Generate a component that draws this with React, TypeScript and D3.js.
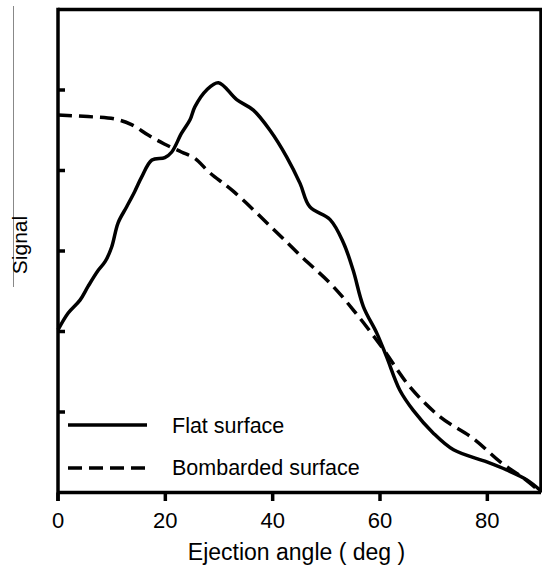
import React from 'react';
import * as d3 from 'd3';

// Flat surface (solid line): [angle deg, signal]
const flatAngle = [0, 1.9, 4.1, 5.6, 7.5, 8.8, 10, 11.2, 12.8, 14.3, 15.6, 17.5, 19.9, 21.2, 23, 24.6, 25.5, 27.7, 29.9, 33.3, 36.4, 39.5, 42.6, 45.1, 46.9, 50.7, 53.2, 55, 56.9, 59.4, 61.2, 63.7, 66.2, 69.9, 73.7, 79.9, 83.6, 87.3, 90];
const flatSignal = [2.02, 2.23, 2.39, 2.56, 2.76, 2.87, 3.05, 3.35, 3.55, 3.74, 3.92, 4.13, 4.16, 4.23, 4.46, 4.63, 4.79, 5.0, 5.09, 4.88, 4.75, 4.5, 4.17, 3.84, 3.55, 3.39, 3.1, 2.76, 2.31, 1.98, 1.69, 1.27, 1.02, 0.74, 0.53, 0.38, 0.28, 0.16, 0.02];

// Bombarded surface (dashed line)
const bombAngle = [0, 5.6, 10.6, 13.7, 16.8, 19.8, 23, 25.5, 28.3, 32.7, 40, 45.7, 50.7, 55, 60.3, 65.6, 71.2, 77.4, 82.4, 86.7, 90];
const bombSignal = [4.69, 4.67, 4.64, 4.57, 4.44, 4.33, 4.23, 4.15, 3.97, 3.74, 3.28, 2.91, 2.6, 2.27, 1.81, 1.31, 0.94, 0.67, 0.38, 0.18, 0.0];

const xTicks = [0, 20, 40, 60, 80];
const yTicks = [1, 2, 3, 4, 5];

const legendLabels = ['Flat surface', 'Bombarded surface'];

const FONT = "'Liberation Sans', Arial, Helvetica, sans-serif";

const App = () => {
	const svgWidth = 542;
	const svgHeight = 568;
	const left = 58,
		right = 541,
		top = 9.5,
		bottom = 492.5;

	const xScale = d3.scaleLinear().domain([0, 90]).range([left, right]);
	const yScale = d3.scaleLinear().domain([0, 6]).range([bottom, top]);

	const line = d3
		.line<[number, number]>()
		.x((d) => xScale(d[0]))
		.y((d) => yScale(d[1]))
		.curve(d3.curveCatmullRom.alpha(0.5));

	const flatData = flatAngle.map((a, i) => [a, flatSignal[i]] as [number, number]);
	const bombData = bombAngle.map((a, i) => [a, bombSignal[i]] as [number, number]);

	const sw = 3.5;

	return (
		<svg
			width={svgWidth}
			height={svgHeight}
			style={{ position: 'absolute', left: 0, top: 0, background: 'white' }}
		>
			{/* --- Y LABEL --- */}
			<line x1={13.5} x2={13.5} y1={6} y2={287} stroke='#888' strokeWidth={1} />
			<text
				transform='translate(27, 245) rotate(-90)'
				textAnchor='middle'
				fontFamily={FONT}
				fontSize={21}
				fill='black'
			>
				Signal
			</text>

			{/* --- CURVES --- */}
			<path d={line(bombData) || ''} fill='none' stroke='black' strokeWidth={sw} strokeDasharray='14 7' />
			<path d={line(flatData) || ''} fill='none' stroke='black' strokeWidth={sw} strokeLinejoin='round' />

			{/* --- FRAME --- */}
			<line x1={left} x2={left} y1={top - sw / 2} y2={501} stroke='black' strokeWidth={sw} />
			<line x1={left} x2={svgWidth} y1={top} y2={top} stroke='black' strokeWidth={sw} />
			<line x1={right} x2={right} y1={top} y2={bottom} stroke='black' strokeWidth={sw} />
			<line x1={left} x2={right} y1={bottom} y2={bottom} stroke='black' strokeWidth={sw} />

			{/* --- Y TICKS (inward) --- */}
			{yTicks.map((v) => (
				<line key={'y' + v} x1={left} x2={left + 7} y1={yScale(v)} y2={yScale(v)} stroke='black' strokeWidth={sw} />
			))}

			{/* --- X TICKS --- */}
			{xTicks.map((v) => (
				<g key={'x' + v} transform={`translate(${xScale(v)}, 0)`}>
					<line y1={bottom} y2={501} stroke='black' strokeWidth={sw} />
					<text y={528} textAnchor='middle' fontFamily={FONT} fontSize={22} fill='black'>
						{v}
					</text>
				</g>
			))}
			<text x={(left + right) / 2 - 3} y={560} textAnchor='middle' fontFamily={FONT} fontSize={23} fill='black'>
				Ejection angle ( deg )
			</text>

			{/* --- LEGEND --- */}
			<line x1={68} x2={147} y1={425} y2={425} stroke='black' strokeWidth={sw} />
			<text x={172} y={433} fontFamily={FONT} fontSize={21.5} fill='black'>
				{legendLabels[0]}
			</text>
			<line x1={68} x2={147} y1={468} y2={468} stroke='black' strokeWidth={sw} strokeDasharray='14 7' />
			<text x={172} y={475} fontFamily={FONT} fontSize={21.5} fill='black'>
				{legendLabels[1]}
			</text>
		</svg>
	);
};

export default App;
